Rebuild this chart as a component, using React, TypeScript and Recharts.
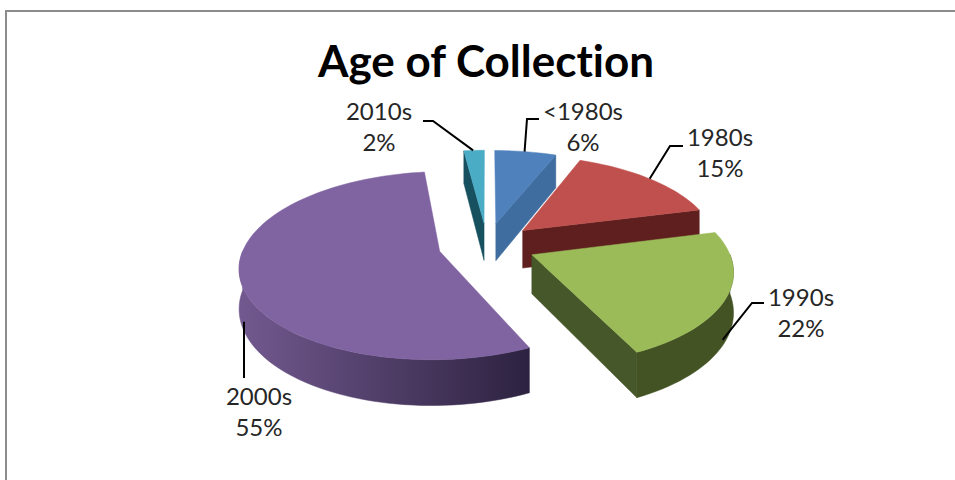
import React from 'react';
import { PieChart, Pie } from 'recharts';

const categories = ['<1980s', '1980s', '1990s', '2000s', '2010s'];
const shares = [6, 15, 22, 55, 2];

const topColors = ['#4F81BD', '#C0504D', '#9BBB59', '#8064A2', '#4BACC6'];
const wallColors = [
  ['#3F6D9F', '#38618F'],
  ['#5E1F1E', '#551B1A'],
  ['#46572A', '#435324'],
  ['#72598F', '#2D2240'],
  ['#1F5A6B', '#17505F'],
];

// leader line nudge off the rim, knee, leader end and the centre of the two text lines
const labelSpots = [
  { nudge: [-1, 0], knee: [527, 119], end: [539, 119], x: 583, y: 110 },
  { nudge: [0, 0], knee: [670, 146], end: [683, 146], x: 720, y: 136 },
  { nudge: [-4, 1], knee: [752, 303], end: [764, 303], x: 801, y: 296 },
  { nudge: [4, 3], knee: [244, 378], end: [244, 378], x: 259, y: 395 },
  { nudge: [-1, 0], knee: [433, 121], end: [423, 121], x: 379, y: 110 },
];

const tableRows = categories.map((name, i) => ({ name, value: shares[i] }));

// 3D look: disc is tilted, pulled apart by EXPLODE and seen in perspective
const SQUASH = 90 / 195;
const PERSPECTIVE = 0.15;
const EXPLODE = 0.25;
const THICKNESS = 38.5;

type Pt = [number, number];

const toClockwise = (angle: number) => ((90 - angle) * Math.PI) / 180;

const project = (cx: number, cy: number, R: number, u: number, v: number, h = 0): Pt => {
  const s = 1 / (1 - PERSPECTIVE * v);
  return [cx + s * u * R, cy + s * (v * R * SQUASH + h)];
};

const makeProjector = (p: any, midAngle: number) => {
  const mid = toClockwise(midAngle);
  const ou = Math.sin(mid) * EXPLODE;
  const ov = -Math.cos(mid) * EXPLODE;
  return {
    tip: (h = 0) => project(p.cx, p.cy, p.outerRadius, ou, ov, h),
    rim: (t: number, h = 0) =>
      project(p.cx, p.cy, p.outerRadius, ou + Math.sin(t), ov - Math.cos(t), h),
  };
};

const toPath = (pts: Pt[]) =>
  'M' + pts.map(([x, y]) => `${x.toFixed(2)},${y.toFixed(2)}`).join('L') + 'Z';

const sweep = (from: number, to: number) => {
  const steps = Math.max(2, Math.ceil(((to - from) * 180) / Math.PI / 2));
  return Array.from({ length: steps + 1 }, (_, i) => from + ((to - from) * i) / steps);
};

const Slice3D = (props: any) => {
  const i = categories.indexOf(props.name);
  const t0 = toClockwise(props.startAngle);
  const t1 = toClockwise(props.endAngle);
  const { tip, rim } = makeProjector(props, (props.startAngle + props.endAngle) / 2);
  const h = THICKNESS;
  const [wallA, wallB] = wallColors[i];
  const walls: React.ReactNode[] = [];

  // radial walls, only when they face the viewer
  if (Math.sin(t0) < -1e-6) {
    const d = toPath([tip(), rim(t0), rim(t0, h), tip(h)]);
    walls.push(<path key="start" d={d} fill={wallB} stroke={wallB} strokeWidth={0.5} />);
  }
  if (Math.sin(t1) > 1e-6) {
    const d = toPath([tip(), rim(t1), rim(t1, h), tip(h)]);
    walls.push(<path key="end" d={d} fill={wallA} stroke={wallA} strokeWidth={0.5} />);
  }

  // outer wall between 90 and 270 degrees clockwise from the top
  const a = Math.max(t0, Math.PI / 2);
  const b = Math.min(t1, (3 * Math.PI) / 2);
  const gradId = `wall-${i}`;
  let gradient = null;
  if (b > a) {
    const upper = sweep(a, b).map((t) => rim(t));
    const lower = sweep(a, b).map((t) => rim(t, h)).reverse();
    const xs = upper.map((q) => q[0]);
    gradient = (
      <linearGradient
        id={gradId}
        gradientUnits="userSpaceOnUse"
        x1={Math.min(...xs)}
        x2={Math.max(...xs)}
        y1={0}
        y2={0}
      >
        <stop offset="0%" stopColor={i === 3 ? wallA : wallB} />
        <stop offset="100%" stopColor={wallB} />
      </linearGradient>
    );
    walls.push(
      <path
        key="rim"
        d={toPath([...upper, ...lower])}
        fill={`url(#${gradId})`}
        stroke={`url(#${gradId})`}
        strokeWidth={0.5}
      />
    );
  }

  const top = toPath([tip(), ...sweep(t0, t1).map((t) => rim(t))]);
  return (
    <g>
      {gradient && <defs>{gradient}</defs>}
      {walls}
      <path d={top} fill={topColors[i]} stroke={topColors[i]} strokeWidth={0.5} />
    </g>
  );
};

const SliceLabel = (props: any) => {
  const i = categories.indexOf(props.name);
  const spot = labelSpots[i];
  const { rim } = makeProjector(props, props.midAngle);
  const mid = toClockwise(props.midAngle);
  // front slices take the leader from the lower rim
  const onRim = rim(mid, -Math.cos(mid) > 0 ? THICKNESS : 0);
  const anchor = [onRim[0] + spot.nudge[0], onRim[1] + spot.nudge[1]];
  const line = [anchor, spot.knee, spot.end].map((q) => q.join(',')).join(' ');
  const textStyle = { fontFamily: 'Lato', fontSize: 24, fill: '#262626' };
  return (
    <g>
      <polyline points={line} fill="none" stroke="#000" strokeWidth={2} />
      <text x={spot.x} y={spot.y} textAnchor="middle" dominantBaseline="central" {...textStyle}>
        {props.name}
      </text>
      <text x={spot.x} y={spot.y + 31} textAnchor="middle" dominantBaseline="central" {...textStyle}>
        {props.value}%
      </text>
    </g>
  );
};

export default function App() {
  return (
    <div style={{ position: 'absolute', left: 0, top: 0, width: 955, height: 480, overflow: 'hidden', background: '#fff' }}>
      <div
        style={{
          position: 'absolute',
          left: 5,
          top: 10,
          width: 960,
          height: 480,
          borderTop: '2px solid #8c8c8c',
          borderLeft: '2px solid #8c8c8c',
        }}
      />
      <div style={{ position: 'absolute', left: 0, top: 0 }}>
        <PieChart width={955} height={480} margin={{ top: 0, right: 0, bottom: 0, left: 0 }}>
          <text
            x={486}
            y={60}
            textAnchor="middle"
            dominantBaseline="central"
            style={{ fontFamily: 'Lato', fontSize: 44, fontWeight: 700, fill: '#000', fontVariantLigatures: 'none' }}
          >
            Age of Collection
          </text>
          <Pie
            data={tableRows}
            dataKey="value"
            nameKey="name"
            cx={487}
            cy={245}
            outerRadius={195}
            startAngle={90}
            endAngle={-270}
            stroke="none"
            shape={Slice3D}
            label={SliceLabel}
            labelLine={false}
            isAnimationActive={false}
          />
        </PieChart>
      </div>
    </div>
  );
}
